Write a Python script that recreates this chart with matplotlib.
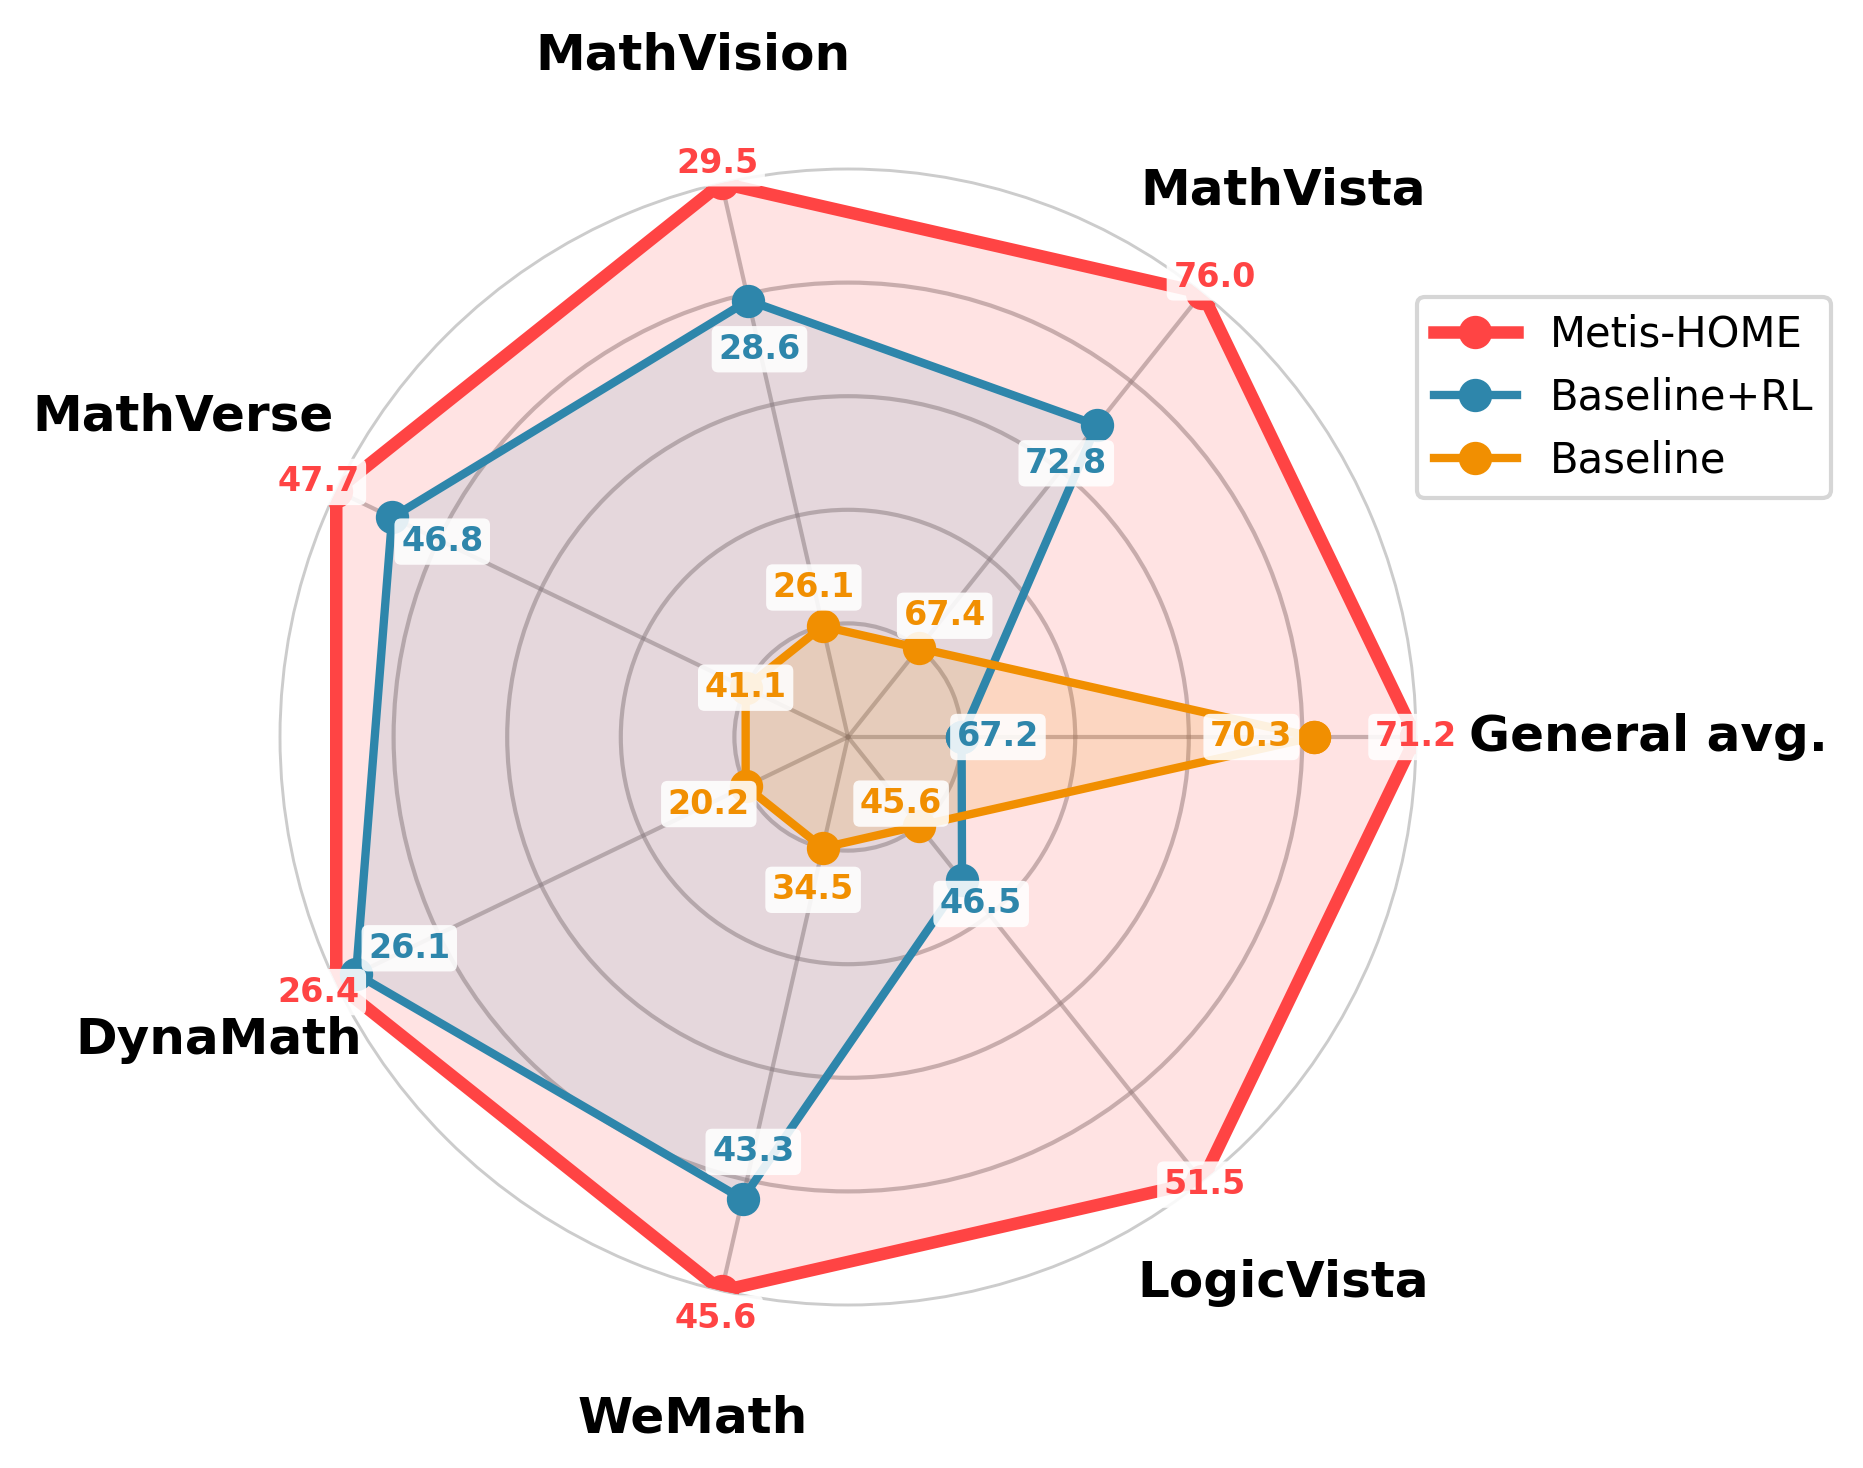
import numpy as np
import matplotlib
matplotlib.use('Agg')
import matplotlib.pyplot as plt

# ---------------- data ----------------
categories = ['General avg.', 'MathVista', 'MathVision', 'MathVerse',
              'DynaMath', 'WeMath', 'LogicVista']
models = ['Metis-HOME', 'Baseline+RL', 'Baseline']
metis_home = [71.2, 76.0, 29.5, 47.7, 26.4, 45.6, 51.5]
baseline_rl = [67.2, 72.8, 28.6, 46.8, 26.1, 43.3, 46.5]
baseline = [70.3, 67.4, 26.1, 41.1, 20.2, 34.5, 45.6]

# ---------------- style / layout ----------------
colors = ['#FF4444', '#2E86AB', '#F18F01']
linewidths = [3.0, 2.0, 2.0]
fill_alpha = [0.15, 0.12, 0.15]
# radial offsets of the value labels (normalised radius units)
label_dr = [[0.0, 0.035, 0.036, 0.035, 0.035, 0.05, 0.008],
            [0.064, -0.086, -0.088, -0.098, -0.104, -0.085, 0.054],
            [-0.11, 0.073, 0.07, 0.0, 0.072, 0.076, -0.05]]
# radius of category labels
cat_r = [1.41, 1.23, 1.23, 1.30, 1.23, 1.23, 1.23]

series = np.array([metis_home, baseline_rl, baseline], dtype=float)
mn = series.min(axis=0)
mx = series.max(axis=0)
norm = 0.2 + 0.8 * (series - mn) / (mx - mn)

n = len(categories)
theta = np.linspace(0, 2 * np.pi, n, endpoint=False)
theta_c = np.concatenate([theta, theta[:1]])

W, H = 1863, 1468
fig = plt.figure(figsize=(W / 300, H / 300), dpi=300)
cx, cy, R = 848, 731, 568
ax = fig.add_axes([(cx - R) / W, (cy - R) / H, 2 * R / W, 2 * R / H],
                  projection='polar')

for i, name in enumerate(models):
    vals = np.concatenate([norm[i], norm[i][:1]])
    ax.fill(theta_c, vals, color=colors[i], alpha=fill_alpha[i], zorder=2 + i)
    ax.plot(theta_c, vals, 'o-', color=colors[i], lw=linewidths[i],
            markersize=7, label=name, zorder=5 + i)

ax.set_ylim(0, 1.0)
ax.set_yticks([0.2, 0.4, 0.6, 0.8])
ax.set_yticklabels([])
ax.set_xticks(theta)
ax.set_xticklabels([])
ax.tick_params(axis='both', length=0)
ax.grid(True, color='gray', alpha=0.5, linewidth=1.0)
ax.spines['polar'].set_color('#cccccc')
ax.spines['polar'].set_linewidth(0.7)

# value labels
for i in range(len(models)):
    for j in range(n):
        ax.text(theta[j], norm[i][j] + label_dr[i][j], f'{series[i][j]:.1f}',
                ha='center', va='center', fontsize=8, fontweight='bold',
                color=colors[i], zorder=20, clip_on=False,
                bbox=dict(boxstyle='round,pad=0.2', facecolor='white',
                          edgecolor='none', alpha=0.88))

# category labels
for j, cat in enumerate(categories):
    ax.text(theta[j], cat_r[j], cat, ha='center', va='center',
            fontsize=12, fontweight='bold', color='black', clip_on=False)

ax.legend(loc='upper left', bbox_to_anchor=(1417 / W, 1 - 297 / H),
          bbox_transform=fig.transFigure, fontsize=10, borderaxespad=0)

fig.savefig('out.png', dpi=300)
